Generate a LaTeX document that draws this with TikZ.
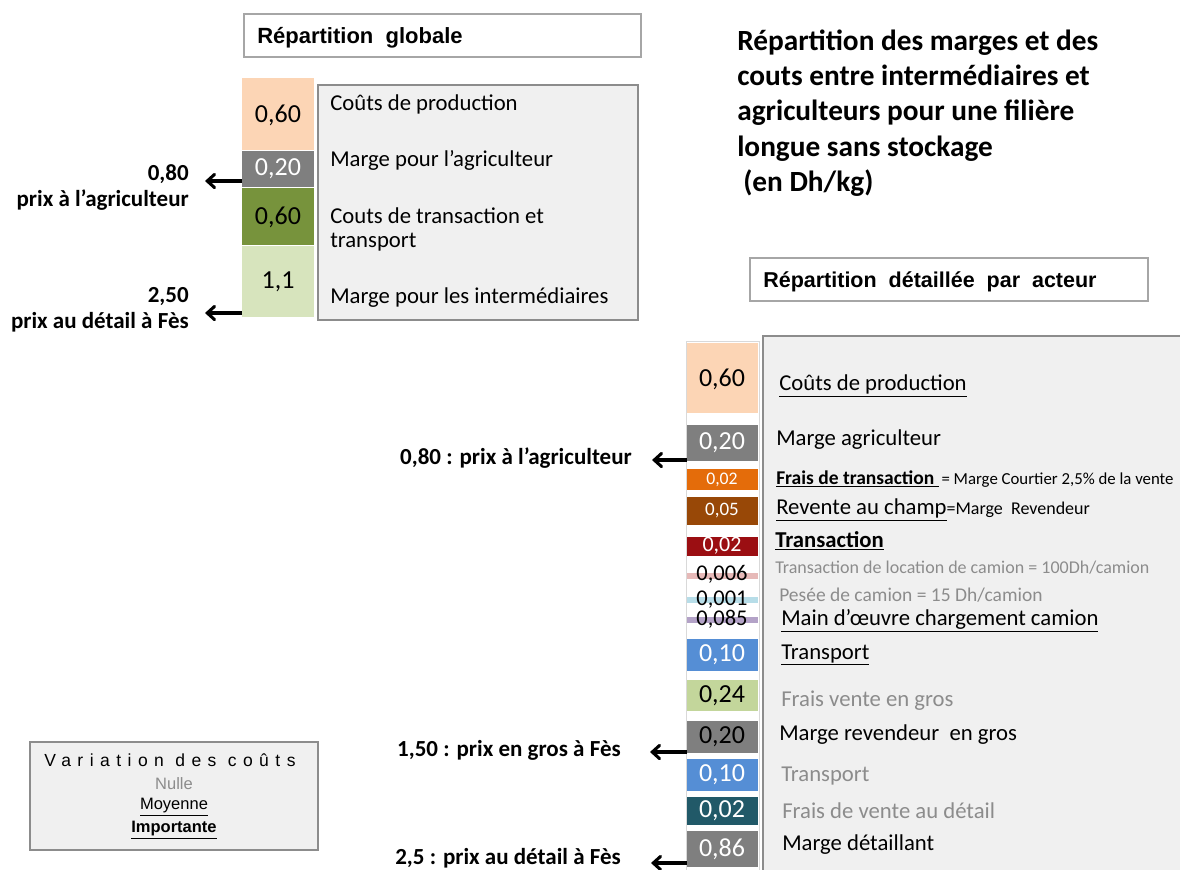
\documentclass[tikz,border=0pt]{standalone}
\usepackage{fontspec}
\setmainfont{Carlito}
\newfontfamily\arialf{Liberation Sans}
\newfontfamily\arialsp[LetterSpace=37]{Liberation Sans}
\usetikzlibrary{arrows.meta,fit}
\newcommand\fpx[1]{\fontsize{\fpeval{#1*0.75}}{\fpeval{#1*0.9}}\selectfont}
\definecolor{peach}{HTML}{FCD5B5}
\definecolor{midgray}{HTML}{7F7F7F}
\definecolor{olive}{HTML}{77933C}
\definecolor{lgreen}{HTML}{D7E4BD}
\definecolor{orng}{HTML}{E46C0A}
\definecolor{brwn}{HTML}{984807}
\definecolor{dred}{HTML}{9B0E12}
\definecolor{pnk}{HTML}{E6B9B8}
\definecolor{lblue}{HTML}{B7DDE8}
\definecolor{purp}{HTML}{B3A2C7}
\definecolor{blu}{HTML}{558ED5}
\definecolor{grn}{HTML}{C3D69B}
\definecolor{teal2}{HTML}{215968}
\definecolor{boxgray}{HTML}{F0F0F0}
\definecolor{bordergray}{HTML}{8C8C8C}
\definecolor{lightborder}{HTML}{A6A6A6}
\definecolor{txtgray}{HTML}{8C8C8C}
\begin{document}
\begin{tikzpicture}[x=0.75pt,y=-0.75pt,
  bar/.style={inner sep=0pt, outer sep=0pt, draw=none},
  lbl/.style={anchor=west, inner sep=0pt, font=\fpx{22.7}},
  small/.style={anchor=west, inner sep=0pt, font=\fpx{18}},
  arrlbl/.style={anchor=east, inner sep=0pt, font=\bfseries\fpx{23}},
  ttl/.style={anchor=base west, inner sep=0pt, font=\bfseries\fpx{29.3}},
  arr/.style={-{Straight Barb[length=5.5pt,width=10pt,line cap=round]}, line width=2.3pt},
  titlebox/.style={draw=lightborder, line width=2.2pt, fill=white},
  panel/.style={draw=bordergray, line width=1.2pt, fill=boxgray},
  num/.style={inner sep=0pt, font=\fpx{26}},
]
\useasboundingbox (0,0) rectangle (1180,869);

% ---------- Global part ----------
\node[titlebox, fit={(244,14) (641,57)}, inner sep=0pt] (tglob) {};
\node[anchor=base west, inner sep=0pt, font=\arialf\bfseries\fpx{22}] (tglobt) at (257,43) {Répartition\ \ globale};

\node[panel, fit={(318,85) (638,320)}, inner sep=0pt] (gpanel) {};
\node[bar, fill=peach, fit={(242,78) (314,150)}] (g1) {};
\node[bar, fill=midgray, fit={(242,151) (314,187)}] (g2) {};
\node[bar, fill=olive, fit={(242,188) (314,245)}] (g3) {};
\node[bar, fill=lgreen, fit={(242,246) (314,317)}] (g4) {};
\node[num] (g1t) at (278,115) {0,60};
\node[num, text=white] (g2t) at (278,169) {0,20};
\node[num] (g3t) at (278,217) {0,60};
\node[num] (g4t) at (278,282) {1,1};

\node[lbl] (gl1) at (330,104) {Coûts de production};
\node[lbl] (gl2) at (330,160) {Marge pour l’agriculteur};
\node[lbl] (gl3) at (330,216) {Couts de transaction et};
\node[lbl] (gl3b) at (330,242) {transport};
\node[lbl] (gl4) at (330,298) {Marge pour les intermédiaires};

\coordinate (ga1) at (205,181);
\coordinate (ga2) at (205,313);
\draw[arr] (g2.west |- ga1) -- (ga1);
\draw[arr] (g4.west |- ga2) -- (ga2);
\node[arrlbl] (gp1) at (189,174) {0,80};
\node[arrlbl] (gp1b) at (189,200) {prix à l’agriculteur};
\node[arrlbl] (gp2) at (189,297) {2,50};
\node[arrlbl] (gp2b) at (189,322) {prix au détail à Fès};

% ---------- Title ----------
\node[ttl] (title1) at (737,50) {Répartition des marges et des};
\node[ttl] (title2) at (737,85) {couts entre intermédiaires et};
\node[ttl] (title3) at (737,120) {agriculteurs pour une filière};
\node[ttl] (title4) at (737,156) {longue sans stockage};
\node[ttl] (title5) at (743,191) {(en Dh/kg)};

% ---------- Detailed part ----------
\node[titlebox, fit={(750,258) (1148,301)}, inner sep=0pt] (tdet) {};
\node[anchor=base west, inner sep=0pt, font=\arialf\bfseries\fpx{21.5}] (tdett) at (763,287) {Répartition\ \ détaillée\ \ par\ \ acteur};

\node[panel, fit={(763,336) (1186,876)}, inner sep=0pt] (dpanel) {};
\node[draw=gray!30, line width=0.6pt, fill=white, fit={(686,341) (759,874)}, inner sep=0pt] (dcol) {};

\node[bar, fill=peach, fit={(687,343) (758,413)}] (d1) {};
\node[bar, fill=midgray, fit={(687,425) (758,461)}] (d2) {};
\node[bar, fill=orng, fit={(687,469) (758,490)}] (d3) {};
\node[bar, fill=brwn, fit={(687,497) (758,525)}] (d4) {};
\node[bar, fill=dred, fit={(687,537) (758,556)}] (d5) {};
\node[bar, fill=pnk, fit={(687,573) (758,579)}] (d6) {};
\node[bar, fill=lblue, fit={(687,597) (758,603)}] (d7) {};
\node[bar, fill=purp, fit={(687,617) (758,623)}] (d8) {};
\node[bar, fill=blu, fit={(687,639) (758,671)}] (d9) {};
\node[bar, fill=grn, fit={(687,680) (758,711)}] (d10) {};
\node[bar, fill=midgray, fit={(687,721) (758,753)}] (d11) {};
\node[bar, fill=blu, fit={(687,759) (758,791)}] (d12) {};
\node[bar, fill=teal2, fit={(687,797) (758,825)}] (d13) {};
\node[bar, fill=midgray, fit={(687,831) (758,867)}] (d14) {};

\node[num] (d1t) at (722,379) {0,60};
\node[num, text=white] (d2t) at (722,443) {0,20};
\node[num, text=white, font=\fpx{17.7}] (d3t) at (722,479.5) {0,02};
\node[num, text=white, font=\fpx{19}] (d4t) at (722,511) {0,05};
\node[num, text=white, font=\fpx{22}] (d5t) at (722,546) {0,02};
\node[num, font=\fpx{22.5}] (d6t) at (722,574) {0,006};
\node[num, font=\fpx{22.5}] (d7t) at (722,600) {0,001};
\node[num, font=\fpx{22.5}] (d8t) at (722,619) {0,085};
\node[num, text=white] (d9t) at (722,655) {0,10};
\node[num] (d10t) at (722,696) {0,24};
\node[num] (d11t) at (722,737) {0,20};
\node[num, text=white] (d12t) at (722,775) {0,10};
\node[num, text=white] (d13t) at (722,811) {0,02};
\node[num, text=white] (d14t) at (722,849) {0,86};

\node[lbl] (dl1) at (779,386) {\underline{Coûts de production}};
\node[lbl] (dl2) at (776,440) {Marge agriculteur};
\node[small, font=\fpx{16.8}] (dl3) at (776,479) {{\bfseries\fpx{19.5}\underline{Frais de transaction }}\,= Marge Courtier 2,5\% de la vente};
\node[small] (dl4) at (776,510) {{\fpx{22.7}\underline{Revente au champ}}=Marge\ \ Revendeur};
\node[lbl] (dl5) at (775,541) {\underline{\bfseries Transaction}};
\node[small, text=txtgray] (dl6) at (775,568) {Transaction de location de camion = 100Dh/camion};
\node[small, text=txtgray, font=\fpx{19.5}] (dl7) at (779,595) {Pesée de camion = 15 Dh/camion};
\node[lbl] (dl8) at (781,621) {\underline{Main d’œuvre chargement camion}};
\node[lbl] (dl9) at (781,655) {\underline{Transport}};
\node[lbl, text=txtgray] (dl10) at (781,701) {Frais vente en gros};
\node[lbl] (dl11) at (779,735) {Marge revendeur\ \ en gros};
\node[lbl, text=txtgray] (dl12) at (781,776) {Transport};
\node[lbl, text=txtgray] (dl13) at (782,811) {Frais de vente au détail};
\node[lbl] (dl14) at (782,845) {Marge détaillant};

\coordinate (da1) at (652,460);
\coordinate (da2) at (650,752);
\coordinate (da3) at (651,863);
\draw[arr] (d2.west |- da1) -- (da1);
\draw[arr] (d11.west |- da2) -- (da2);
\draw[arr] (d14.west |- da3) -- (da3);
\node[arrlbl] (dp1) at (632,458) {0,80 : prix à l’agriculteur};
\node[arrlbl] (dp2) at (621,750) {1,50 : prix en gros à Fès};
\node[arrlbl] (dp3) at (621,858) {2,5 : prix au détail à Fès};

% ---------- Legend ----------
\node[panel, fit={(30,742) (318,850)}, inner sep=0pt] (leg) {};
\node[inner sep=0pt, font=\arialsp\fpx{17.5}] (leg1) at (170,760) {Variation des coûts};
\node[inner sep=0pt, font=\arialf\fpx{16.5}, text=txtgray] (leg2) at (174,784) {Nulle};
\node[inner sep=0pt, font=\arialf\fpx{16.5}] (leg3) at (174,807) {\underline{Moyenne}};
\node[inner sep=0pt, font=\arialf\bfseries\fpx{16.5}] (leg4) at (174,830) {\underline{Importante}};
\end{tikzpicture}
\end{document}
